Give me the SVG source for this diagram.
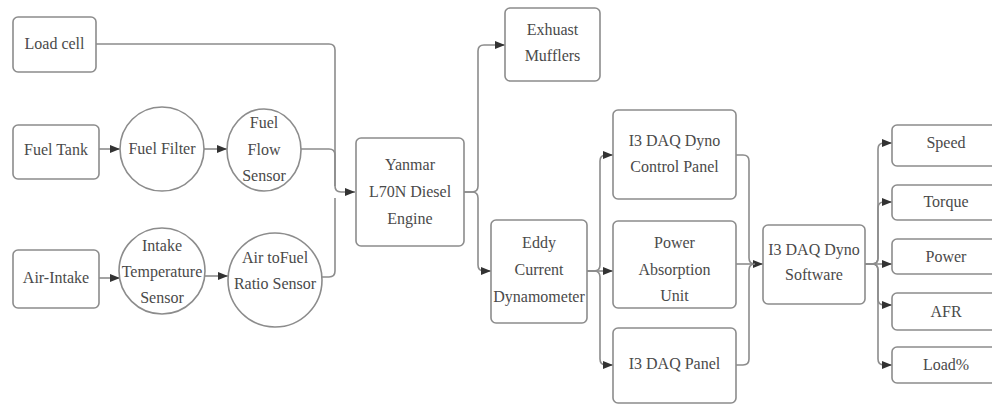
<svg xmlns="http://www.w3.org/2000/svg" width="992" height="405" viewBox="0 0 992 405">
<defs>
<style>
.b{fill:#fff;stroke:#8c8c8c;stroke-width:1.6}
.t{font-family:"Liberation Serif","Times New Roman",serif;font-size:16px;fill:#4a4a4a;text-anchor:middle}
.c{fill:none;stroke:#8c8c8c;stroke-width:1.6}
</style>
<marker id="ah" markerUnits="userSpaceOnUse" markerWidth="11" markerHeight="9" refX="10" refY="4" orient="auto">
<path d="M0,0 L10,4 L0,8 z" fill="#333"/>
</marker>
</defs>
<rect width="992" height="405" fill="#fff"/>
<g id="connectors">
<path class="c" d="M96,44 H329 Q335,44 335,50 V186 Q335,192 341,192 H355" marker-end="url(#ah)"/>
<path class="c" d="M300,149 H329 Q335,149 335,155 V186"/>
<path class="c" d="M322,277 H329 Q335,277 335,271 V198"/>
<path class="c" d="M99,149 H120" marker-end="url(#ah)"/>
<path class="c" d="M204,149 H227" marker-end="url(#ah)"/>
<path class="c" d="M99,278 H120" marker-end="url(#ah)"/>
<path class="c" d="M204,276 H228" marker-end="url(#ah)"/>
<path class="c" d="M464,192 H472 Q478,192 478,186 V51 Q478,45 484,45 H505" marker-end="url(#ah)"/>
<path class="c" d="M464,192 H472 Q478,192 478,198 V265 Q478,271 484,271 H491" marker-end="url(#ah)"/>
<path class="c" d="M587,271 H594 Q600,271 600,265 V161 Q600,155 606,155 H613" marker-end="url(#ah)"/>
<path class="c" d="M587,271 H613" marker-end="url(#ah)"/>
<path class="c" d="M587,271 H594 Q600,271 600,277 V359 Q600,365 606,365 H613" marker-end="url(#ah)"/>
<path class="c" d="M736,155 H743 Q749,155 749,161 V258 Q749,264 755,264"/>
<path class="c" d="M736,264 H763" marker-end="url(#ah)"/>
<path class="c" d="M736,365 H743 Q749,365 749,359 V270 Q749,264 755,264"/>
<path class="c" d="M865,264 H872 Q878,264 878,258 V149 Q878,143 884,143 H892" marker-end="url(#ah)"/>
<path class="c" d="M865,264 H872 Q878,264 878,258 V208 Q878,202 884,202 H892" marker-end="url(#ah)"/>
<path class="c" d="M865,264 H892" marker-end="url(#ah)"/>
<path class="c" d="M865,264 H872 Q878,264 878,270 V299 Q878,305 884,305 H892" marker-end="url(#ah)"/>
<path class="c" d="M865,264 H872 Q878,264 878,270 V359 Q878,365 884,365 H892" marker-end="url(#ah)"/>
</g>
<g id="load-cell"><rect class="b" x="13" y="17" width="83" height="55" rx="5"/><text class="t" x="54.5" y="49">Load cell</text></g>
<g id="fuel-tank"><rect class="b" x="13" y="125" width="86" height="54" rx="5"/><text class="t" x="56" y="155">Fuel Tank</text></g>
<g id="fuel-filter"><circle class="b" cx="162" cy="149" r="42"/><text class="t" x="162" y="154">Fuel Filter</text></g>
<g id="fuel-flow-sensor"><ellipse class="b" cx="264" cy="150" rx="37" ry="41"/><text class="t" x="264" y="128">Fuel</text><text class="t" x="264" y="155">Flow</text><text class="t" x="264" y="181">Sensor</text></g>
<g id="air-intake"><rect class="b" x="13" y="250" width="86" height="58" rx="5"/><text class="t" x="56" y="283">Air-Intake</text></g>
<g id="intake-temperature-sensor"><circle class="b" cx="162" cy="271" r="43"/><text class="t" x="162" y="251">Intake</text><text class="t" x="162" y="277">Temperature</text><text class="t" x="162" y="303">Sensor</text></g>
<g id="air-fuel-ratio-sensor"><circle class="b" cx="275" cy="280" r="47"/><text class="t" x="275" y="263">Air toFuel</text><text class="t" x="275" y="289">Ratio Sensor</text></g>
<g id="engine"><rect class="b" x="356" y="138" width="108" height="108" rx="5"/><text class="t" x="410" y="170">Yanmar</text><text class="t" x="410" y="197">L70N Diesel</text><text class="t" x="410" y="224">Engine</text></g>
<g id="exhaust-mufflers"><rect class="b" x="505" y="8" width="95" height="73" rx="5"/><text class="t" x="552.5" y="35">Exhuast</text><text class="t" x="552.5" y="61">Mufflers</text></g>
<g id="eddy-current-dynamometer"><rect class="b" x="491" y="220" width="96" height="103" rx="5"/><text class="t" x="539" y="248">Eddy</text><text class="t" x="539" y="275">Current</text><text class="t" x="539" y="302">Dynamometer</text></g>
<g id="dyno-control-panel"><rect class="b" x="613" y="110" width="123" height="89" rx="5"/><text class="t" x="674.5" y="146">I3 DAQ Dyno</text><text class="t" x="674.5" y="172">Control Panel</text></g>
<g id="power-absorption-unit"><rect class="b" x="613" y="221" width="123" height="87" rx="5"/><text class="t" x="674.5" y="248">Power</text><text class="t" x="674.5" y="275">Absorption</text><text class="t" x="674.5" y="301">Unit</text></g>
<g id="daq-panel"><rect class="b" x="613" y="328" width="123" height="75" rx="5"/><text class="t" x="674.5" y="369">I3 DAQ Panel</text></g>
<g id="dyno-software"><rect class="b" x="763" y="225" width="102" height="79" rx="5"/><text class="t" x="814" y="255">I3 DAQ Dyno</text><text class="t" x="814" y="280">Software</text></g>
<g id="speed"><rect class="b" x="892" y="125" width="110" height="41" rx="5"/><text class="t" x="946" y="148">Speed</text></g>
<g id="torque"><rect class="b" x="892" y="185" width="110" height="35" rx="5"/><text class="t" x="946" y="207">Torque</text></g>
<g id="power"><rect class="b" x="892" y="239" width="110" height="35" rx="5"/><text class="t" x="946" y="262">Power</text></g>
<g id="afr"><rect class="b" x="892" y="293" width="110" height="37" rx="5"/><text class="t" x="946" y="317">AFR</text></g>
<g id="load-percent"><rect class="b" x="892" y="347" width="110" height="36" rx="5"/><text class="t" x="946" y="370">Load%</text></g>
</svg>
